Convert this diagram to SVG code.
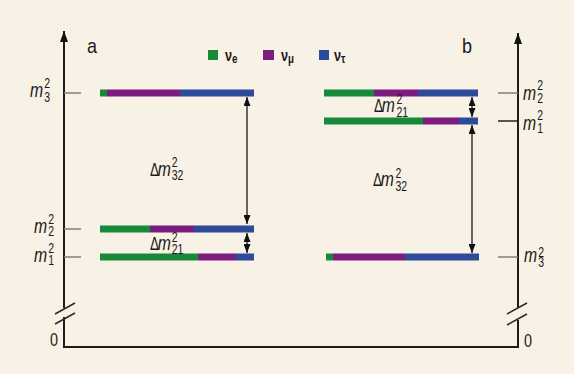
<svg xmlns="http://www.w3.org/2000/svg" width="574" height="374" viewBox="0 0 574 374">
  <defs>
    <marker id="tip" viewBox="0 0 9 7" refX="9" refY="3.5" markerWidth="9" markerHeight="7" markerUnits="userSpaceOnUse" orient="auto-start-reverse">
      <path d="M0,0 L9,3.5 L0,7 z" fill="#111"/>
    </marker>
    <marker id="axisTip" viewBox="0 0 11 8" refX="11" refY="4" markerWidth="11" markerHeight="8" markerUnits="userSpaceOnUse" orient="auto">
      <path d="M0,0 L11,4 L0,8 z" fill="#111"/>
    </marker>
  </defs>
  <style>
    .axis { stroke: #1c1c1c; stroke-width: 2; fill: none; }
    .brk { stroke: #2a2a2a; stroke-width: 1.5; fill: none; }
    .tick { stroke: #8a7d76; stroke-width: 1.5; }
    .tick-dark { stroke: #222; stroke-width: 1.5; }
    .arr { stroke: #1a1a1a; stroke-width: 1.3; fill: none; }
    .ve { fill: #17893b; }
    .vm { fill: #7b1c7e; }
    .vt { fill: #2e4a9b; }
    text { font-family: "Liberation Sans", Arial, sans-serif; fill: #1a1a1a; }
    .mi { font-style: italic; font-size: 21px; }
    .dg { font-style: normal; font-size: 14px; }
    .dl { font-size: 18px; }
    .leg { font-size: 17px; font-weight: bold; }
    .legs { font-size: 13px; }
  </style>

  <rect x="0" y="0" width="574" height="374" fill="#f8f1e5"/>

  <!-- axes -->
  <g id="axes">
    <line class="axis" x1="64" y1="308" x2="64" y2="31" marker-end="url(#axisTip)"/>
    <polyline class="axis" points="64,317 64,347 518,347 518,320"/>
    <line class="axis" x1="518" y1="308" x2="518" y2="33" marker-end="url(#axisTip)"/>
    <line class="brk" x1="55" y1="314" x2="75" y2="303"/>
    <line class="brk" x1="55" y1="324" x2="75" y2="313"/>
    <line class="brk" x1="507" y1="314" x2="527" y2="303"/>
    <line class="brk" x1="507" y1="325" x2="527" y2="314"/>
    <text x="50" y="346" font-size="18" textLength="8" lengthAdjust="spacingAndGlyphs">0</text>
    <text x="524" y="347" font-size="18" textLength="8" lengthAdjust="spacingAndGlyphs">0</text>
  </g>

  <!-- panel letters -->
  <text id="label-a" x="87" y="53" font-size="21" textLength="10" lengthAdjust="spacingAndGlyphs">a</text>
  <text id="label-b" x="462" y="53" font-size="20" textLength="10" lengthAdjust="spacingAndGlyphs">b</text>

  <!-- legend -->
  <g id="legend">
    <rect class="ve" x="208" y="50" width="10" height="10"/>
    <text transform="translate(225,61) scale(0.75,1)"><tspan class="leg">ν</tspan><tspan class="leg legs" dy="2">e</tspan></text>
    <rect class="vm" x="263" y="50" width="11" height="10"/>
    <text transform="translate(281,61) scale(0.75,1)"><tspan class="leg">ν</tspan><tspan class="leg legs" dy="2">μ</tspan></text>
    <rect class="vt" x="319" y="50" width="10" height="10"/>
    <text transform="translate(334,61) scale(0.75,1)"><tspan class="leg">ν</tspan><tspan class="leg legs" dy="2">τ</tspan></text>
  </g>

  <!-- normal ordering (a) -->
  <g id="a-m3">
    <line class="tick" x1="64" y1="93" x2="81" y2="93"/>
    <rect class="ve" x="100" y="89.5" width="7" height="7"/>
    <rect class="vm" x="107" y="89.5" width="73" height="7"/>
    <rect class="vt" x="180" y="89.5" width="74" height="7"/>
    <text transform="translate(30,97) scale(0.75,1)"><tspan class="mi">m</tspan><tspan class="dg" x="19" y="-9">2</tspan><tspan class="dg" x="19" y="5">3</tspan></text>
  </g>
  <g id="a-m2">
    <line class="tick" x1="64" y1="229" x2="81" y2="229"/>
    <rect class="ve" x="100" y="225.5" width="50" height="7"/>
    <rect class="vm" x="150" y="225.5" width="44" height="7"/>
    <rect class="vt" x="194" y="225.5" width="60" height="7"/>
    <text transform="translate(34,233) scale(0.75,1)"><tspan class="mi">m</tspan><tspan class="dg" x="19" y="-9">2</tspan><tspan class="dg" x="19" y="3">2</tspan></text>
  </g>
  <g id="a-m1">
    <line class="tick" x1="64" y1="257" x2="81" y2="257"/>
    <rect class="ve" x="100" y="253.5" width="98" height="7"/>
    <rect class="vm" x="198" y="253.5" width="38" height="7"/>
    <rect class="vt" x="236" y="253.5" width="18" height="7"/>
    <text transform="translate(34,262) scale(0.75,1)"><tspan class="mi">m</tspan><tspan class="dg" x="19" y="-9">2</tspan><tspan class="dg" x="19" y="3">1</tspan></text>
  </g>
  <g id="a-d32">
    <text transform="translate(150,176) scale(0.75,1)"><tspan class="dl">Δ</tspan><tspan class="mi" x="10.5">m</tspan><tspan class="dg" x="29" y="-9">2</tspan><tspan class="dg" x="29" y="4">32</tspan></text>
  </g>
  <g id="a-d21">
    <text transform="translate(150,250) scale(0.75,1)"><tspan class="dl">Δ</tspan><tspan class="mi" x="10.5">m</tspan><tspan class="dg" x="29" y="-8">2</tspan><tspan class="dg" x="29" y="4">21</tspan></text>
  </g>

  <!-- inverted ordering (b) -->
  <g id="b-m2">
    <line class="tick" x1="498" y1="93" x2="518" y2="93"/>
    <rect class="ve" x="324" y="89.5" width="50" height="7"/>
    <rect class="vm" x="374" y="89.5" width="44" height="7"/>
    <rect class="vt" x="418" y="89.5" width="60" height="7"/>
    <text transform="translate(523,100) scale(0.75,1)"><tspan class="mi">m</tspan><tspan class="dg" x="19" y="-10">2</tspan><tspan class="dg" x="19" y="3">2</tspan></text>
  </g>
  <g id="b-m1">
    <line class="tick-dark" x1="498" y1="121" x2="518" y2="121"/>
    <rect class="ve" x="324" y="117.5" width="99" height="7"/>
    <rect class="vm" x="423" y="117.5" width="36" height="7"/>
    <rect class="vt" x="459" y="117.5" width="19" height="7"/>
    <text transform="translate(523,130) scale(0.75,1)"><tspan class="mi">m</tspan><tspan class="dg" x="19" y="-10">2</tspan><tspan class="dg" x="19" y="3">1</tspan></text>
  </g>
  <g id="b-m3">
    <line class="tick" x1="498" y1="257" x2="518" y2="257"/>
    <rect class="ve" x="326" y="253.5" width="7" height="7"/>
    <rect class="vm" x="333" y="253.5" width="72" height="7"/>
    <rect class="vt" x="405" y="253.5" width="74" height="7"/>
    <text transform="translate(524,262) scale(0.75,1)"><tspan class="mi">m</tspan><tspan class="dg" x="19" y="-5">2</tspan><tspan class="dg" x="19" y="5">3</tspan></text>
  </g>
  <g id="b-d21">
    <text transform="translate(374,112) scale(0.75,1)"><tspan class="dl">Δ</tspan><tspan class="mi" x="10.5">m</tspan><tspan class="dg" x="30" y="-8">2</tspan><tspan class="dg" x="30" y="5">21</tspan></text>
  </g>
  <g id="b-d32">
    <text transform="translate(373,186) scale(0.75,1)"><tspan class="dl">Δ</tspan><tspan class="mi" x="10.5">m</tspan><tspan class="dg" x="30" y="-8">2</tspan><tspan class="dg" x="30" y="5">32</tspan></text>
  </g>

  <!-- mass splittings -->
  <g id="connectors">
    <line class="arr" x1="247" y1="97" x2="247" y2="224" marker-start="url(#tip)" marker-end="url(#tip)"/>
    <line class="arr" x1="247" y1="233" x2="247" y2="253" marker-start="url(#tip)" marker-end="url(#tip)"/>
    <line class="arr" x1="472" y1="97" x2="472" y2="117" marker-start="url(#tip)" marker-end="url(#tip)"/>
    <line class="arr" x1="472" y1="125" x2="472" y2="253" marker-start="url(#tip)" marker-end="url(#tip)"/>
  </g>
</svg>
